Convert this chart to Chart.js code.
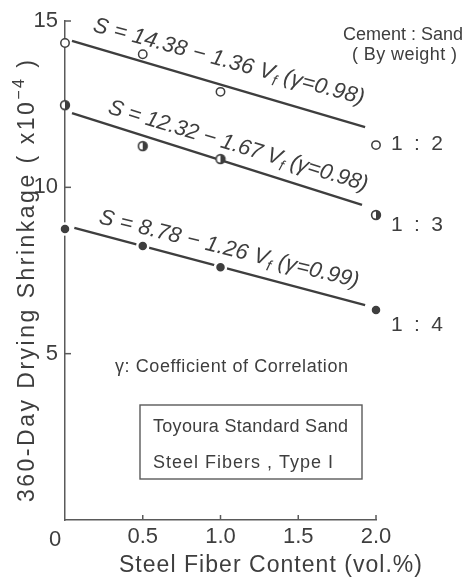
<!DOCTYPE html>
<html><head><meta charset="utf-8">
<script src="https://cdn.jsdelivr.net/npm/chart.js@4"></script>
<style>html,body{margin:0;padding:0;background:#fff}#wrap{width:467px;height:578px}</style>
</head><body><div id="wrap"><canvas id="c" width="467" height="578"></canvas></div>
<script>
// ---- data ----
const fiberContent = [0, 0.5, 1.0, 2.0];          // vol.%
const shrink12 = [14.34, 14.0, 12.87, 11.27];     // Cement:Sand 1:2 (x10^-4)
const shrink13 = [12.47, 11.24, 10.85, 9.17];     // 1:3
const shrink14 = [8.75, 8.24, 7.60, 6.31];        // 1:4
// regression line end points as drawn
const fit12X = [0.045, 1.93], fit12Y = [14.40, 11.81];
const fit13X = [0.045, 1.91], fit13Y = [12.23, 9.47];
const fit14X = [0.06, 1.93],  fit14Y = [8.78, 6.46];
const xTicks = [0.5, 1.0, 1.5, 2.0];
const yTicks = [5, 10, 15];
const seriesLabels = ['1 : 2', '1 : 3', '1 : 4'];

const INK = '#3e3e3e';
const AXIS = '#5a5a5a';
const FONT = '"Liberation Sans", Arial, sans-serif';

function pts(xs, ys){ return xs.map((v,i)=>({x:v, y:ys[i]})); }

// half-filled circle marker
function halfCircle(){
  const c = document.createElement('canvas'); c.width = 12; c.height = 12;
  const g = c.getContext('2d');
  g.fillStyle = '#fff'; g.beginPath(); g.arc(6,6,4.6,0,Math.PI*2); g.fill();
  g.fillStyle = INK; g.beginPath(); g.moveTo(6,6); g.arc(6,6,4.6,-Math.PI/2,Math.PI/2); g.closePath(); g.fill();
  g.strokeStyle = INK; g.lineWidth = 1.6; g.beginPath(); g.arc(6,6,4.4,0,Math.PI*2); g.stroke();
  return c;
}

// draw text parts left-aligned at (x,y), spread by letter spacing to a target length
function drawFit(ctx, parts, x, y, target){
  const hasLS = ('letterSpacing' in ctx);
  if (hasLS) ctx.letterSpacing = '0px';
  let nat = 0, n = 0;
  parts.forEach(p=>{ ctx.font = p.font; p.w = ctx.measureText(p.t).width; p.n = [...p.t].length; nat += p.w; n += p.n; });
  let ls = target ? (target - nat) / Math.max(n - 1, 1) : 0;
  ctx.save();
  if (!hasLS && target) { ctx.translate(x, y); ctx.scale(target / nat, 1); x = 0; y = 0; ls = 0; }
  let cx = x;
  parts.forEach(p=>{
    ctx.font = p.font;
    if (hasLS) ctx.letterSpacing = ls + 'px';
    ctx.fillText(p.t, cx, y + (p.dy || 0));
    cx += p.w + ls * p.n;
  });
  if (hasLS) ctx.letterSpacing = '0px';
  ctx.restore();
}
function eqParts(a, b, r){
  const f = 'italic 22px ' + FONT, fs = 'italic 15px ' + FONT;
  return [
    {t:'S = ' + a + ' \u2212 ' + b + ' V', font:f},
    {t:'f', font:fs, dy:5},
    {t:' (\u03b3=' + r + ')', font:f}
  ];
}
const T = (t, size, style) => [{t, font:(style ? style + ' ' : '') + size + 'px ' + FONT}];

const deco = {
  id: 'deco',
  afterDraw(chart){
    const {ctx, scales:{x, y}} = chart;
    ctx.save();
    // inward ticks
    ctx.strokeStyle = AXIS; ctx.lineWidth = 1.5;
    yTicks.forEach(v=>{ const py = y.getPixelForValue(v); ctx.beginPath(); ctx.moveTo(x.left, py); ctx.lineTo(x.left + 6, py); ctx.stroke(); });
    xTicks.forEach(v=>{ const px = x.getPixelForValue(v); ctx.beginPath(); ctx.moveTo(px, y.bottom); ctx.lineTo(px, y.bottom - 5); ctx.stroke(); });

    ctx.fillStyle = INK;
    ctx.textBaseline = 'alphabetic';
    ctx.textAlign = 'left';
    // origin label
    drawFit(ctx, T('0', 22), 49, 546);

    // x-axis title
    drawFit(ctx, T('Steel Fiber Content (vol.%)', 23), 119, 572, 303);

    // y-axis title
    ctx.save();
    ctx.translate(34, 281); ctx.rotate(-Math.PI/2);
    drawFit(ctx, [
      {t:'360-Day Drying Shrinkage ( x10', font:'23px ' + FONT},
      {t:'\u22124', font:'16px ' + FONT, dy:-10},
      {t:' )', font:'23px ' + FONT}
    ], -221, 0, 442);
    ctx.restore();

    // equations
    const eqs = [
      {p:eqParts('14.38','1.36','0.98'), x:92, y:31, a:15.2, L:280},
      {p:eqParts('12.32','1.67','0.98'), x:107, y:113, a:16.8, L:270},
      {p:eqParts('8.78','1.26','0.99'), x:98, y:223, a:14.0, L:267}
    ];
    eqs.forEach(e=>{
      ctx.save(); ctx.translate(e.x, e.y); ctx.rotate(e.a*Math.PI/180);
      drawFit(ctx, e.p, 0, 0, e.L);
      ctx.restore();
    });

    // series labels
    const labY = [150, 231, 331];
    seriesLabels.forEach((s,i)=>{ drawFit(ctx, T(s, 21), 391, labY[i], 52); });

    drawFit(ctx, T('Cement : Sand', 18), 343, 40, 120);
    drawFit(ctx, T('( By weight )', 18), 352, 60, 105);

    drawFit(ctx, T('\u03b3: Coefficient of Correlation', 18), 115, 372, 233);

    // info box
    ctx.strokeStyle = AXIS; ctx.lineWidth = 1.4;
    ctx.strokeRect(140, 405, 222, 74);
    drawFit(ctx, T('Toyoura Standard Sand', 18), 153, 432, 195);
    drawFit(ctx, T('Steel Fibers , Type I', 18), 153, 468, 180);
    ctx.restore();
  }
};

const lineDs = (xs, ys) => ({
  data: pts(xs, ys), showLine: true, borderColor: INK, borderWidth: 2.4,
  pointRadius: 0, fill: false, order: 2, clip: false
});

new Chart(document.getElementById('c'), {
  type: 'line',
  data: {
    datasets: [
      lineDs(fit12X, fit12Y),
      lineDs(fit13X, fit13Y),
      lineDs(fit14X, fit14Y),
      { label: seriesLabels[0], data: pts(fiberContent, shrink12), showLine: false,
        pointStyle: 'circle', pointRadius: 4.2, pointBorderWidth: 1.5, pointBorderColor: INK,
        pointBackgroundColor: '#fff', order: 1, clip: false },
      { label: seriesLabels[1], data: pts(fiberContent, shrink13), showLine: false,
        pointStyle: halfCircle(), order: 1, clip: false },
      { label: seriesLabels[2], data: pts(fiberContent, shrink14), showLine: false,
        pointStyle: 'circle', pointRadius: 5.5, pointBorderWidth: 2.5, pointBorderColor: '#fff',
        pointBackgroundColor: INK, order: 1, clip: false }
    ]
  },
  options: {
    responsive: false, animation: false, devicePixelRatio: 1,
    layout: { padding: { left: 0, right: 91, top: 21, bottom: 0 } },
    plugins: { legend: { display: false }, tooltip: { enabled: false } },
    scales: {
      x: {
        type: 'linear', min: 0, max: 2,
        afterFit(s){ s.height = 58; },
        afterBuildTicks(s){ s.ticks = [0].concat(xTicks).map(v=>({value:v})); },
        grid: { display: false, drawTicks: false },
        border: { display: true, color: AXIS, width: 1.5 },
        ticks: { color: INK, font: { family: FONT, size: 22 }, padding: 4,
                 callback: v => v === 0 ? '' : v.toFixed(1) }
      },
      y: {
        type: 'linear', min: 0, max: 15,
        afterFit(s){ s.width = 65; },
        afterBuildTicks(s){ s.ticks = yTicks.map(v=>({value:v})); },
        grid: { display: false, drawTicks: false },
        border: { display: true, color: AXIS, width: 1.5 },
        ticks: { color: INK, font: { family: FONT, size: 22 }, padding: 7 }
      }
    }
  },
  plugins: [deco]
});
</script></body></html>
